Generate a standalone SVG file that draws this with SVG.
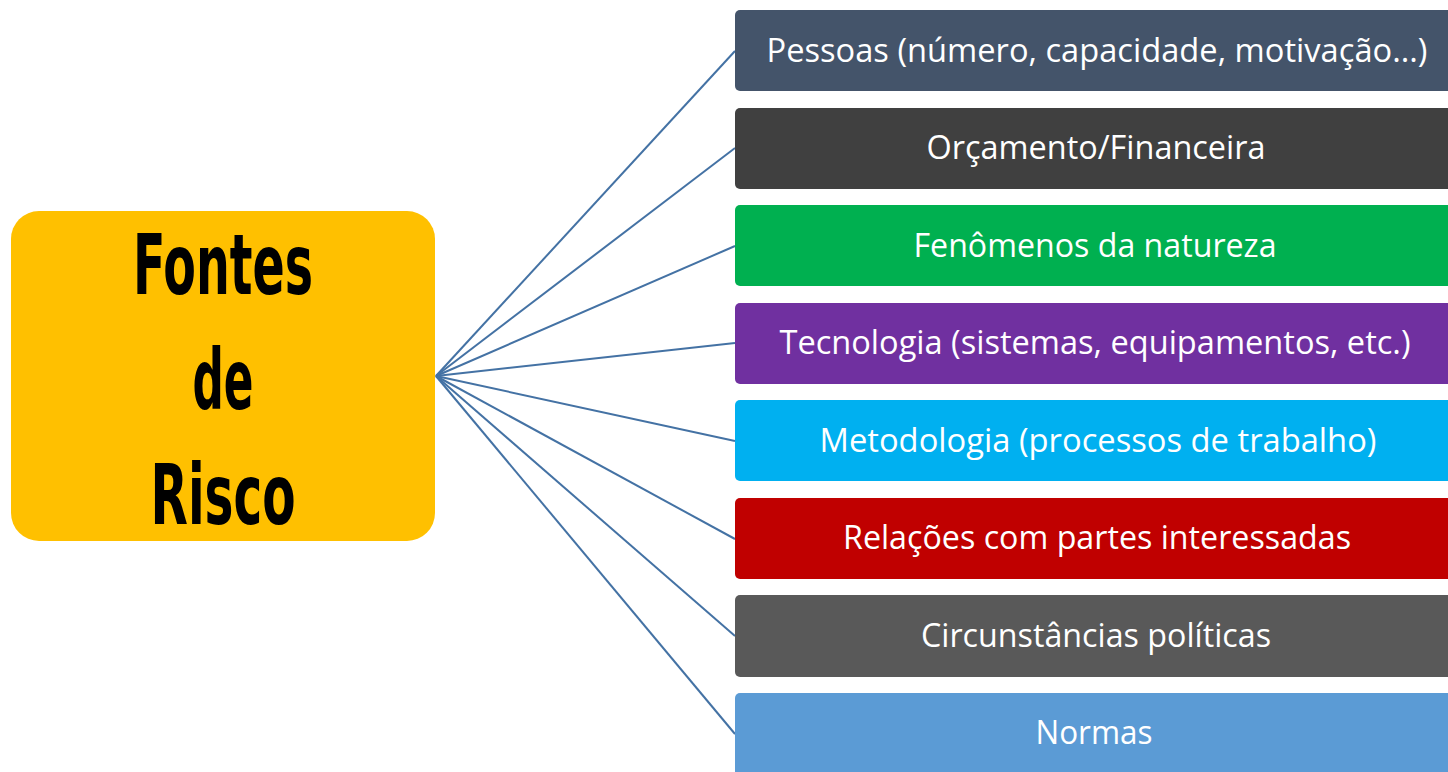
<svg xmlns="http://www.w3.org/2000/svg" width="1448" height="772" viewBox="0 0 1448 772">
<style>
.box{stroke:none}
.lbl{font-family:"Open Sans","Noto Sans",sans-serif;font-size:32px;fill:#ffffff;text-anchor:middle}
.title{font-family:"Liberation Sans Narrow","DejaVu Sans Condensed","Liberation Sans",sans-serif;font-weight:bold;font-size:84px;fill:#000000;text-anchor:middle}
.conn{stroke:#4472A4;stroke-width:2;fill:none}
</style>
<rect width="1448" height="772" fill="#ffffff"/>
<g id="connectors">
<line class="conn" x1="436" y1="376" x2="735" y2="51"/>
<line class="conn" x1="436" y1="376" x2="735" y2="148"/>
<line class="conn" x1="436" y1="376" x2="735" y2="246"/>
<line class="conn" x1="436" y1="376" x2="735" y2="343"/>
<line class="conn" x1="436" y1="376" x2="735" y2="441"/>
<line class="conn" x1="436" y1="376" x2="735" y2="539"/>
<line class="conn" x1="436" y1="376" x2="735" y2="636"/>
<line class="conn" x1="436" y1="376" x2="735" y2="734"/>
</g>
<g id="center">
<rect x="11" y="211" width="424" height="330" rx="28" ry="28" fill="#FFC000"/>
<text class="title" x="223" y="294" textLength="180" lengthAdjust="spacingAndGlyphs">Fontes</text>
<text class="title" x="223" y="409" textLength="61" lengthAdjust="spacingAndGlyphs">de</text>
<text class="title" x="223" y="524" textLength="145" lengthAdjust="spacingAndGlyphs">Risco</text>
</g>
<g id="n1"><rect class="box" x="735" y="10" width="720" height="81" rx="5" fill="#44546A"/><text class="lbl" x="1097" y="62" textLength="661" lengthAdjust="spacingAndGlyphs">Pessoas (número, capacidade, motivação...)</text></g>
<g id="n2"><rect class="box" x="735" y="108" width="720" height="81" rx="5" fill="#404040"/><text class="lbl" x="1096" y="159" textLength="339" lengthAdjust="spacingAndGlyphs">Orçamento/Financeira</text></g>
<g id="n3"><rect class="box" x="735" y="205" width="720" height="81" rx="5" fill="#00B050"/><text class="lbl" x="1095" y="257" textLength="363" lengthAdjust="spacingAndGlyphs">Fenômenos da natureza</text></g>
<g id="n4"><rect class="box" x="735" y="303" width="720" height="81" rx="5" fill="#7030A0"/><text class="lbl" x="1095" y="354" textLength="631" lengthAdjust="spacingAndGlyphs">Tecnologia (sistemas, equipamentos, etc.)</text></g>
<g id="n5"><rect class="box" x="735" y="400" width="720" height="81" rx="5" fill="#00B0F0"/><text class="lbl" x="1098" y="452" textLength="557" lengthAdjust="spacingAndGlyphs">Metodologia (processos de trabalho)</text></g>
<g id="n6"><rect class="box" x="735" y="498" width="720" height="81" rx="5" fill="#C00000"/><text class="lbl" x="1097" y="549" textLength="508" lengthAdjust="spacingAndGlyphs">Relações com partes interessadas</text></g>
<g id="n7"><rect class="box" x="735" y="595" width="720" height="82" rx="5" fill="#595959"/><text class="lbl" x="1096" y="647" textLength="350" lengthAdjust="spacingAndGlyphs">Circunstâncias políticas</text></g>
<g id="n8"><rect class="box" x="735" y="693" width="720" height="90" rx="5" fill="#5B9BD5"/><text class="lbl" x="1094" y="744" textLength="117" lengthAdjust="spacingAndGlyphs">Normas</text></g>
</svg>
